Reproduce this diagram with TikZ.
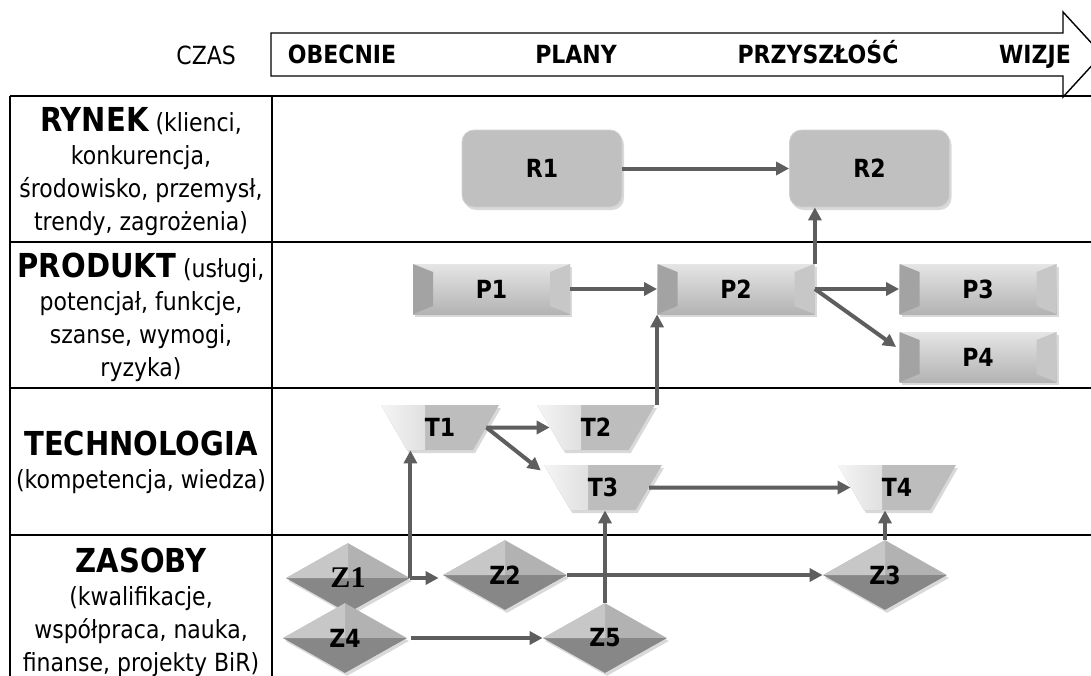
\documentclass[tikz,border=0pt]{standalone}
\usepackage{fontspec}
\setmainfont[FakeStretch=0.88]{DejaVu Sans}
\newfontfamily\zserif{Liberation Serif}
\usetikzlibrary{arrows.meta,shapes.geometric,shadows}

\definecolor{linkgray}{HTML}{5E5E5E}
\definecolor{boxgray}{HTML}{C0C0C0}

\tikzset{
	link/.style={line width=2pt, draw=linkgray, -{Triangle[length=6.5pt,width=6.5pt]}},
	frame/.style={line width=1pt, draw=black},
	head/.style={font=\bfseries\fontsize{12.5}{14}\selectfont},
	timelabel/.style={head, anchor=base},
	rowlabel/.style={align=center, font=\fontsize{12.5}{16.5}\selectfont},
	soft/.style={drop shadow={shadow xshift=1pt, shadow yshift=-1.5pt, opacity=0.3}},
	rbox/.style={soft, rectangle, rounded corners=6pt, minimum width=80pt, minimum height=38.5pt,
		inner sep=0pt, fill=boxgray, draw=black!18, line width=0.4pt, head},
	pbox/.style={soft, rectangle, minimum width=78.5pt, minimum height=25pt, inner sep=0pt,
		top color=black!10, bottom color=black!30, head,
		path picture={
			\fill[black!36] (path picture bounding box.north west) -- ++(10pt,-4pt)
				-- ([shift={(10pt,4pt)}]path picture bounding box.south west)
				-- (path picture bounding box.south west) -- cycle;
			\fill[black!22] (path picture bounding box.north east) -- ++(-10pt,-4pt)
				-- ([shift={(-10pt,4pt)}]path picture bounding box.south east)
				-- (path picture bounding box.south east) -- cycle;
		}},
	tbox/.style={soft, trapezium, trapezium angle=57, trapezium stretches=true, shape border rotate=180,
		minimum width=59pt, minimum height=22.5pt, inner sep=0pt, fill=black!26, head,
		path picture={
			\shade[left color=black!4, right color=black!26] (path picture bounding box.north west)
				rectangle ([xshift=22pt]path picture bounding box.south west);
		}},
	zbox/.style={soft, diamond, minimum width=62pt, minimum height=35pt, inner sep=0pt,
		fill=black!30, head,
		path picture={
			\fill[black!47] (path picture bounding box.west) -- (path picture bounding box.east)
				-- (path picture bounding box.south) -- cycle;
			\fill[black!22] (path picture bounding box.west) -- (path picture bounding box.north)
				-- (path picture bounding box.center) -- cycle;
		}},
}

\begin{document}
\begin{tikzpicture}[x=0.5pt, y=-0.5pt]
	%%%%% START %%%%%
	\useasboundingbox (0, 0) rectangle (1091, 675);
	
	% time arrow
	\draw[line width=0.7pt] (271, 33) -- (1063, 33) -- (1063, 12) -- (1102, 54.5)
		-- (1063, 97) -- (1063, 76) -- (271, 76) -- cycle;
	\node[anchor=base east, font=\fontsize{12.5}{14}\selectfont] (czas) at (243, 64) {CZAS};
	\node[timelabel] (obecnie) at (342, 63) {OBECNIE};
	\node[timelabel] (plany) at (576, 63) {PLANY};
	\node[timelabel] (przyszlosc) at (818, 63) {PRZYSZŁOŚĆ};
	\node[timelabel] (wizje) at (1035, 63) {WIZJE};
	
	% table
	\draw[frame] (10, 96) -- (1095, 96);
	\draw[frame] (10, 242) -- (1095, 242);
	\draw[frame] (10, 388) -- (1095, 388);
	\draw[frame] (10, 535) -- (1095, 535);
	\draw[frame] (10, 96) -- (10, 680);
	\draw[frame] (272, 96) -- (272, 680);
	
	\node[rowlabel] (rynek) at (141, 172) {{\bfseries\fontsize{16.5}{16.5}\selectfont RYNEK} (klienci,\\
		konkurencja,\\ środowisko, przemysł,\\ trendy, zagrożenia)};
	\node[rowlabel] (produkt) at (141, 317) {{\bfseries\fontsize{16.5}{16.5}\selectfont PRODUKT} (usługi,\\
		potencjał, funkcje,\\ szanse, wymogi,\\ ryzyka)};
	\node[rowlabel] (technologia) at (141, 462) {{\bfseries\fontsize{16.5}{16.5}\selectfont TECHNOLOGIA}\\
		(kompetencja, wiedza)};
	\node[rowlabel] (zasoby) at (141, 612) {{\bfseries\fontsize{16.5}{16.5}\selectfont ZASOBY}\\
		(kwalifikacje,\\ współpraca, nauka,\\ finanse, projekty BiR)};
	
	% market
	\node[rbox] (r1) at (542, 168.5) {R1};
	\node[rbox] (r2) at (869.5, 168.5) {R2};
	
	% product
	\node[pbox] (p1) at (491.5, 289) {P1};
	\node[pbox] (p2) at (736, 289) {P2};
	\node[pbox] (p3) at (978, 289) {P3};
	\node[pbox] (p4) at (978, 357) {P4};
	
	% technology
	\node[tbox] (t1) at (440, 427.5) {T1};
	\node[tbox] (t2) at (596, 427.5) {T2};
	\node[tbox] (t3) at (603, 487.5) {T3};
	\node[tbox] (t4) at (897, 487.5) {T4};
	
	% resources
	\node[zbox, font=\zserif\bfseries\fontsize{15}{16}\selectfont] (z1) at (348, 578) {Z1};
	\node[zbox] (z2) at (505, 575) {Z2};
	\node[zbox] (z3) at (885, 575) {Z3};
	\node[zbox] (z4) at (345, 638) {Z4};
	\node[zbox] (z5) at (605, 638) {Z5};
	
	% links
	\draw[link] (r1.east) -- (r2.west);
	\draw[link] (p2.north east) -- (p2.north east |- r2.south);
	\draw[link] (p1.east) -- (p2.west);
	\draw[link] (p2.east) -- (p3.west);
	\draw[link] (p2.east) -- ([shift={(-3, -10)}]p4.west);
	\draw[link] (p2.south west |- t2.north) -- (p2.south west);
	\draw[link] (t1.east) -- (t2.west);
	\draw[link] (t1.east) -- ([shift={(-16, -17)}]t3.west);
	\draw[link] (t3.east) -- (t4.west);
	\draw[link] (z1.east) -- (z1.east |- t1.south);
	\draw[link] (z1.east) -- ([xshift=-2pt]z1.east -| z2.west);
	\draw[link] (z2.east) -- (z3.west);
	\draw[link, shorten <=2pt] (z4.east) -- (z5.west);
	\draw[link] (z5.north) -- (z5.north |- t3.south);
	\draw[link] (z3.north) -- (z3.north |- t4.south);
	
	%%%%% END %%%%%
\end{tikzpicture}
\end{document}
